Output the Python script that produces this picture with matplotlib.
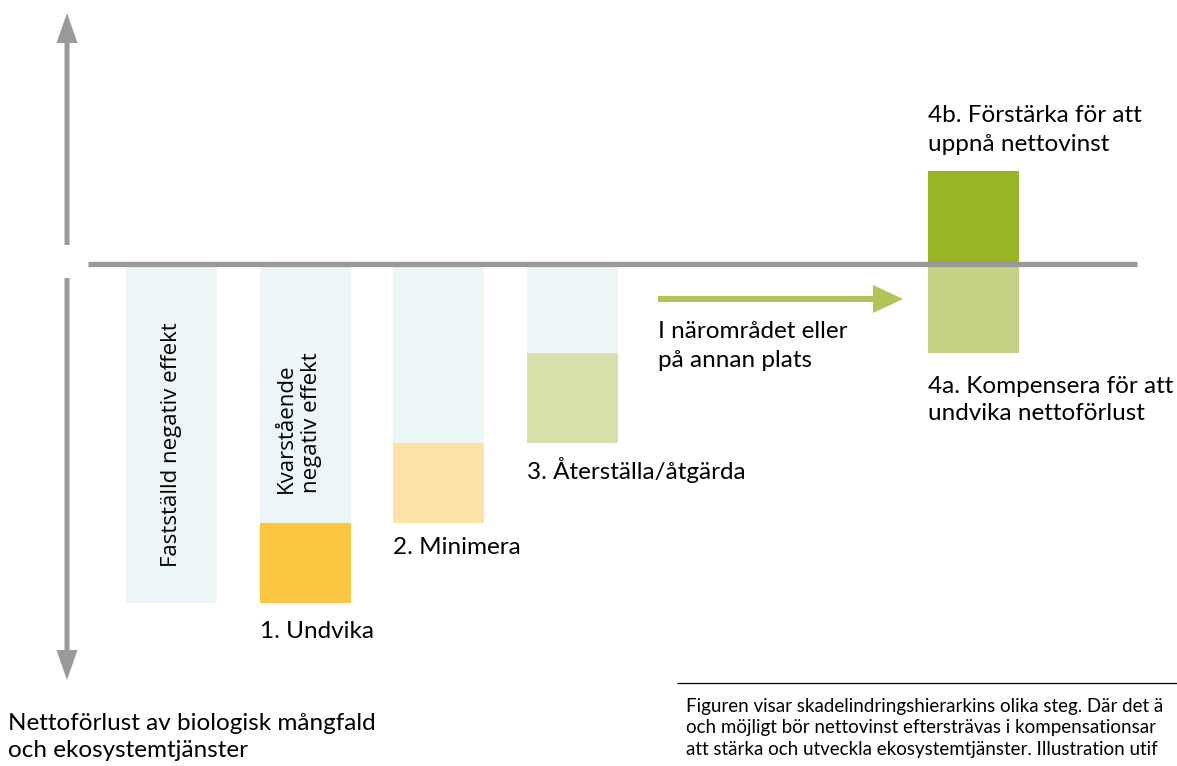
import matplotlib.pyplot as plt

plt.rcParams['font.family'] = ['Lato', 'DejaVu Sans']

# diagram units: 1 unit = 100 px, baseline (no net loss) at 0
steps = ["Fastställd", "1. Undvika", "2. Minimera", "3. Återställa/åtgärda", "4. Kompensera/Förstärka"]
x_pos = [1.715, 3.055, 4.385, 5.72, 9.73]
residual = [-3.39, -2.59, -1.79, -0.89, 0.0]      # remaining negative effect (light blue)
step_low = [-3.39, -3.39, -2.59, -1.79, -0.89]    # lower edge of each step block
step_high = [-3.39, -2.59, -1.79, -0.89, 0.0]     # upper edge of each step block
gain = [0, 0, 0, 0, 0.93]                          # net gain above baseline

BLUE = "#EDF6F7"
STEP_COLORS = ["#EDF6F7", "#FCC642", "#FDE2A8", "#D8E0AB", "#C5D184"]
DARK_GREEN = "#97B525"
GREY = "#999999"
ARROW_GREEN = "#B0C556"

fig = plt.figure(figsize=(11.77, 7.66), dpi=100)
ax = fig.add_axes([0, 0, 1, 1])
ax.set_xlim(0, 11.77)
ax.set_ylim(-5.02, 2.64)
ax.axis("off")

W = 0.91
# residual negative effect
ax.bar(x_pos[:4], residual[:4], width=W, color=BLUE, zorder=1)
# step blocks
heights = [h - l for h, l in zip(step_high, step_low)]
ax.bar(x_pos, heights, bottom=step_low, width=W, color=STEP_COLORS, zorder=2)
# net gain
ax.bar(x_pos[4], gain[4], width=W, color=DARK_GREEN, zorder=2)

# baseline
ax.hlines(0, 0.88, 11.37, color=GREY, lw=3.8, zorder=3)

# vertical arrows
ax.arrow(0.67, 0.19, 0, 2.32, width=0.05, head_width=0.21, head_length=0.30,
         length_includes_head=True, color=GREY, lw=0)
ax.arrow(0.67, -0.14, 0, -4.02, width=0.05, head_width=0.21, head_length=0.30,
         length_includes_head=True, color=GREY, lw=0)

# green arrow towards compensation
ax.arrow(6.58, -0.35, 2.45, 0, width=0.06, head_width=0.28, head_length=0.30,
         length_includes_head=True, color=ARROW_GREEN, lw=0)

FS = 17.5
ROT = ["Open Sans", "DejaVu Sans"]
ax.text(1.72, -1.81, "Fastställd negativ effekt", rotation=90, ha="center", va="center",
        fontsize=16, family=ROT)
ax.text(2.99, -2.29, "Kvarstående\nnegativ effekt", rotation=90, ha="center", va="bottom",
        multialignment="left", fontsize=16, linespacing=1.3, family=ROT)

ax.text(2.60, -3.68, "1. Undvika", ha="left", va="center", fontsize=FS)
ax.text(3.93, -2.84, "2. Minimera", ha="left", va="center", fontsize=FS)
ax.text(5.27, -2.06, "3. Återställa/åtgärda", ha="left", va="center", fontsize=FS)
ax.text(6.58, -0.82, "I närområdet eller\npå annan plats", ha="left", va="center",
        fontsize=FS, linespacing=1.45)
ax.text(9.28, -1.36, "4a. Kompensera för att\nundvika nettoförlust", ha="left", va="center",
        fontsize=FS, linespacing=1.4)
ax.text(9.28, 1.34, "4b. Förstärka för att\nuppnå nettovinst", ha="left", va="center",
        fontsize=FS, linespacing=1.42)
ax.text(0.08, -4.73, "Nettoförlust av biologisk mångfald\noch ekosystemtjänster", ha="left",
        va="center", fontsize=FS, linespacing=1.4)

# caption (cut at the right edge, as in the source)
ax.hlines(-4.19, 6.77, 11.77, color="black", lw=0.9)
ax.text(6.86, -4.64,
        "Figuren visar skadelindringshierarkins olika steg. Där det ä\n"
        "och möjligt bör nettovinst eftersträvas i kompensationsar\n"
        "att stärka och utveckla ekosystemtjänster. Illustration utif",
        ha="left", va="center", fontsize=13.5, linespacing=1.32)

fig.savefig("out.png", dpi=100)
